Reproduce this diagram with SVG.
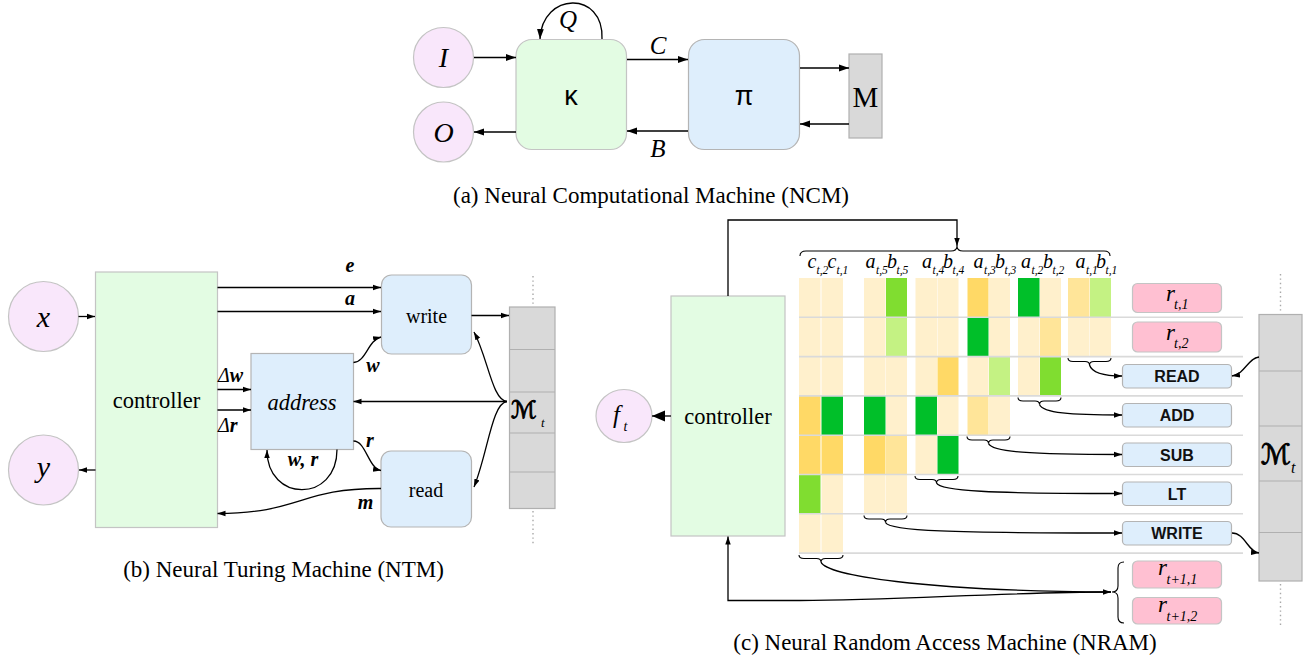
<svg xmlns="http://www.w3.org/2000/svg" width="1309" height="660" viewBox="0 0 1309 660">
<style>
.t{font-family:"Liberation Serif","Times New Roman",serif;fill:#000}
.it{font-style:italic}
.bi{font-style:italic;font-weight:bold}
.sans{font-family:"Liberation Sans",Arial,sans-serif;fill:#000}
.op{font-family:"Liberation Sans",Arial,sans-serif;font-weight:bold;font-size:16px;fill:#111}
.cal{font-family:"DejaVu Serif","DejaVu Sans",serif;font-style:italic;fill:#000;stroke:#000;stroke-width:0.9}
.circ{fill:#f9e7fb;stroke:#c4c4c4;stroke-width:1.2}
.gbox{fill:#e3fce3;stroke:#c4c4c4;stroke-width:1.2}
.bbox{fill:#deeefc;stroke:#b4b4b4;stroke-width:1.2}
.pbox{fill:#ffc0d2;stroke:#c4c4c4;stroke-width:1.2}
.mem{fill:#d9d9d9;stroke:#b0b0b0;stroke-width:1.2}
.c{fill:none;stroke:#000;stroke-width:1.3}
.br{fill:none;stroke:#000;stroke-width:1.1}
.dot{fill:none;stroke:#a8a8a8;stroke-width:1.4;stroke-dasharray:1.4 3}
.row{stroke:#dadada;stroke-width:1.6}
.P{fill:#fff0cc}.Y{fill:#ffd966}.LY{fill:#ffe599}.DG{fill:#00bf29}.MG{fill:#80dd30}.LG{fill:#c4f283}
</style>
<defs>
<marker id="ah" viewBox="0 0 10 10" refX="10" refY="5" markerWidth="10" markerHeight="10" markerUnits="userSpaceOnUse" orient="auto"><path d="M0,1.6 L10,5 L0,8.4 z" fill="#000"/></marker>
<marker id="as" viewBox="0 0 10 10" refX="10" refY="5" markerWidth="8" markerHeight="8" markerUnits="userSpaceOnUse" orient="auto"><path d="M0,1.6 L10,5 L0,8.4 z" fill="#000"/></marker>
<marker id="ab" viewBox="0 0 10 10" refX="10" refY="5" markerWidth="13" markerHeight="13" markerUnits="userSpaceOnUse" orient="auto"><path d="M0,0.8 L10,5 L0,9.2 z" fill="#000"/></marker>
</defs>

<!-- ============ (a) NCM ============ -->
<g id="a-I"><circle class="circ" cx="443.5" cy="57.5" r="30"/><text class="t it" x="443.5" y="67" font-size="28" text-anchor="middle">I</text></g>
<g id="a-O"><circle class="circ" cx="443.5" cy="132" r="30"/><text class="t it" x="443.5" y="141.5" font-size="28" text-anchor="middle">O</text></g>
<g id="a-kappa"><rect class="gbox" x="516" y="39.5" width="110.5" height="110" rx="16"/><text class="sans" x="571" y="105" font-size="27" text-anchor="middle">κ</text></g>
<g id="a-pi"><rect class="bbox" x="688.5" y="39.5" width="111" height="110" rx="16"/><text class="sans" x="744" y="105" font-size="27" text-anchor="middle">π</text></g>
<g id="a-M"><rect class="mem" x="849" y="54" width="33" height="84"/><text class="t" x="865.5" y="107" font-size="29" text-anchor="middle">M</text></g>
<g id="a-connectors">
<path class="c" d="M474,57.5 L516,57.5" marker-end="url(#ah)"/>
<path class="c" d="M516,132 L474,132" marker-end="url(#ah)"/>
<path class="c" d="M627,59.5 L688,59.5" marker-end="url(#ah)"/>
<path class="c" d="M688,131 L627,131" marker-end="url(#ah)"/>
<path class="c" d="M800,68 L849,68" marker-end="url(#ah)"/>
<path class="c" d="M849,124 L800,124" marker-end="url(#ah)"/>
<path class="c" d="M602,39 C604,-10 542,-8 540,39" marker-end="url(#ah)"/>
<text class="t it" x="568" y="28" font-size="25" text-anchor="middle">Q</text>
<text class="t it" x="658" y="54" font-size="25" text-anchor="middle">C</text>
<text class="t it" x="658" y="157" font-size="25" text-anchor="middle">B</text>
</g>
<text class="t" x="651" y="203" font-size="23" text-anchor="middle">(a) Neural Computational Machine (NCM)</text>

<!-- ============ (b) NTM ============ -->
<g id="b-x"><circle class="circ" cx="43.5" cy="316.5" r="35"/><text class="t it" x="43.5" y="327" font-size="30" text-anchor="middle">x</text></g>
<g id="b-y"><circle class="circ" cx="43.5" cy="470" r="35"/><text class="t it" x="43.5" y="477" font-size="30" text-anchor="middle">y</text></g>
<g id="b-controller"><rect class="gbox" x="95.5" y="272" width="122" height="255.5"/><text class="t" x="156.5" y="408" font-size="22.5" text-anchor="middle">controller</text></g>
<g id="b-write"><rect class="bbox" x="381.5" y="275" width="90" height="79" rx="10"/><text class="t" x="426.5" y="323" font-size="20" text-anchor="middle">write</text></g>
<g id="b-address"><rect class="bbox" x="251" y="353.5" width="102.5" height="96"/><text class="t it" x="302" y="410" font-size="22.5" text-anchor="middle">address</text></g>
<g id="b-read"><rect class="bbox" x="381" y="451" width="90.5" height="76" rx="10"/><text class="t" x="426" y="496.5" font-size="20" text-anchor="middle">read</text></g>
<g id="b-memory">
<rect class="mem" x="509.5" y="307" width="45.5" height="201.5"/>
<path class="mem" d="M509.5,349.5 H555 M509.5,392 H555 M509.5,433 H555 M509.5,472 H555" fill="none"/>
<path class="dot" d="M533,276 V305 M533,511 V545"/>
<text class="cal" x="511" y="418" font-size="24">ℳ</text>
<text class="t it" x="541" y="427" font-size="13">t</text>
</g>
<g id="b-connectors">
<path class="c" d="M78.5,316.5 L95,316.5" marker-end="url(#as)"/>
<path class="c" d="M95.5,470 L79,470" marker-end="url(#as)"/>
<path class="c" d="M217.5,287.5 L381,287.5" marker-end="url(#as)"/>
<path class="c" d="M217.5,311.5 L381,311.5" marker-end="url(#as)"/>
<path class="c" d="M217.5,389.5 L251,389.5" marker-end="url(#as)"/>
<path class="c" d="M217.5,410 L251,410" marker-end="url(#as)"/>
<path class="c" d="M471.5,315.5 L509,315.5" marker-end="url(#as)"/>
<path class="c" d="M507,401.5 L353.5,401.5" marker-end="url(#as)"/>
<path class="c" d="M507,401.5 C492,400 488,358 474,332" marker-end="url(#as)"/>
<path class="c" d="M507,401.5 C492,403 488,452 474,487" marker-end="url(#as)"/>
<path class="c" d="M353.5,362.5 C366,362 368,340 381,337" marker-end="url(#as)"/>
<path class="c" d="M353.5,441 C366,441 368,468 381,470.5" marker-end="url(#as)"/>
<path class="c" d="M337,449.5 C337,503 267,503 267,450" marker-end="url(#as)"/>
<path class="c" d="M381,488.5 C300,488 300,513.5 217.5,513.5" marker-end="url(#as)"/>
<text class="t bi" x="350" y="272" font-size="20" text-anchor="middle">e</text>
<text class="t bi" x="350" y="305" font-size="20" text-anchor="middle">a</text>
<text class="t" x="218" y="381.5" font-size="20"><tspan class="it">Δ</tspan><tspan class="bi">w</tspan></text>
<text class="t" x="218" y="432" font-size="20"><tspan class="it">Δ</tspan><tspan class="bi">r</tspan></text>
<text class="t bi" x="373" y="372" font-size="20" text-anchor="middle">w</text>
<text class="t bi" x="370" y="447" font-size="20" text-anchor="middle">r</text>
<text class="t bi" x="303" y="466" font-size="20" text-anchor="middle">w, r</text>
<text class="t bi" x="365.5" y="508.5" font-size="20" text-anchor="middle">m</text>
</g>
<text class="t" x="283.5" y="577" font-size="23" text-anchor="middle">(b) Neural Turing Machine (NTM)</text>

<!-- ============ (c) NRAM ============ -->
<g id="c-grid">
<!-- row 1 -->
<rect class="P" x="799" y="278" width="21.5" height="39.3"/><rect class="P" x="821.5" y="278" width="21.5" height="39.3"/>
<rect class="P" x="864" y="278" width="21.5" height="39.3"/><rect class="MG" x="886" y="278" width="21" height="39.3"/>
<rect class="P" x="915.5" y="278" width="21.5" height="39.3"/><rect class="P" x="937.5" y="278" width="21" height="39.3"/>
<rect class="Y" x="967.5" y="278" width="21" height="39.3"/><rect class="P" x="989" y="278" width="21" height="39.3"/>
<rect class="DG" x="1018" y="278" width="21.5" height="39.3"/><rect class="P" x="1040" y="278" width="21" height="39.3"/>
<rect class="LY" x="1068" y="278" width="21.5" height="39.3"/><rect class="LG" x="1090" y="278" width="21" height="39.3"/>
<!-- row 2 -->
<rect class="P" x="799" y="317.3" width="21.5" height="39.3"/><rect class="P" x="821.5" y="317.3" width="21.5" height="39.3"/>
<rect class="P" x="864" y="317.3" width="21.5" height="39.3"/><rect class="LG" x="886" y="317.3" width="21" height="39.3"/>
<rect class="P" x="915.5" y="317.3" width="21.5" height="39.3"/><rect class="P" x="937.5" y="317.3" width="21" height="39.3"/>
<rect class="DG" x="967.5" y="317.3" width="21" height="39.3"/><rect class="P" x="989" y="317.3" width="21" height="39.3"/>
<rect class="P" x="1018" y="317.3" width="21.5" height="39.3"/><rect class="LY" x="1040" y="317.3" width="21" height="39.3"/>
<rect class="P" x="1068" y="317.3" width="21.5" height="39.3"/><rect class="P" x="1090" y="317.3" width="21" height="39.3"/>
<!-- row 3 -->
<rect class="P" x="799" y="356.6" width="21.5" height="39.3"/><rect class="P" x="821.5" y="356.6" width="21.5" height="39.3"/>
<rect class="P" x="864" y="356.6" width="21.5" height="39.3"/><rect class="P" x="886" y="356.6" width="21" height="39.3"/>
<rect class="P" x="915.5" y="356.6" width="21.5" height="39.3"/><rect class="Y" x="937.5" y="356.6" width="21" height="39.3"/>
<rect class="P" x="967.5" y="356.6" width="21" height="39.3"/><rect class="LG" x="989" y="356.6" width="21" height="39.3"/>
<rect class="P" x="1018" y="356.6" width="21.5" height="39.3"/><rect class="MG" x="1040" y="356.6" width="21" height="39.3"/>
<!-- row 4 -->
<rect class="Y" x="799" y="395.9" width="21.5" height="39.3"/><rect class="DG" x="821.5" y="395.9" width="21.5" height="39.3"/>
<rect class="DG" x="864" y="395.9" width="21.5" height="39.3"/><rect class="P" x="886" y="395.9" width="21" height="39.3"/>
<rect class="DG" x="915.5" y="395.9" width="21.5" height="39.3"/><rect class="P" x="937.5" y="395.9" width="21" height="39.3"/>
<rect class="LY" x="967.5" y="395.9" width="21" height="39.3"/><rect class="P" x="989" y="395.9" width="21" height="39.3"/>
<!-- row 5 -->
<rect class="Y" x="799" y="435.2" width="21.5" height="39.3"/><rect class="Y" x="821.5" y="435.2" width="21.5" height="39.3"/>
<rect class="Y" x="864" y="435.2" width="21.5" height="39.3"/><rect class="LY" x="886" y="435.2" width="21" height="39.3"/>
<rect class="P" x="915.5" y="435.2" width="21.5" height="39.3"/><rect class="DG" x="937.5" y="435.2" width="21" height="39.3"/>
<!-- row 6 -->
<rect class="MG" x="799" y="474.5" width="21.5" height="39.3"/><rect class="P" x="821.5" y="474.5" width="21.5" height="39.3"/>
<rect class="P" x="864" y="474.5" width="21.5" height="39.3"/><rect class="P" x="886" y="474.5" width="21" height="39.3"/>
<!-- row 7 -->
<rect class="P" x="799" y="513.8" width="21.5" height="39.3"/><rect class="P" x="821.5" y="513.8" width="21.5" height="39.3"/>
<path class="row" d="M799,317.3 H1243 M799,356.6 H1243 M799,395.9 H1243 M799,435.2 H1243 M799,474.5 H1243 M799,513.8 H1243 M799,553.1 H1243"/>
<!-- column labels -->
<g class="t it">
<text x="807.5" y="268" font-size="20">c</text><text x="816.5" y="274" font-size="11.5">t,2</text>
<text x="827.5" y="268" font-size="20">c</text><text x="836.5" y="274" font-size="11.5">t,1</text>
<text x="865.5" y="268" font-size="20">a</text><text x="876" y="274" font-size="11.5">t,5</text>
<text x="887" y="268" font-size="20">b</text><text x="896.5" y="274" font-size="11.5">t,5</text>
<text x="922" y="268" font-size="20">a</text><text x="932.5" y="274" font-size="11.5">t,4</text>
<text x="943" y="268" font-size="20">b</text><text x="952.5" y="274" font-size="11.5">t,4</text>
<text x="973.5" y="268" font-size="20">a</text><text x="984" y="274" font-size="11.5">t,3</text>
<text x="995" y="268" font-size="20">b</text><text x="1004.5" y="274" font-size="11.5">t,3</text>
<text x="1021" y="268" font-size="20">a</text><text x="1031.5" y="274" font-size="11.5">t,2</text>
<text x="1043" y="268" font-size="20">b</text><text x="1052.5" y="274" font-size="11.5">t,2</text>
<text x="1075.5" y="268" font-size="20">a</text><text x="1086" y="274" font-size="11.5">t,1</text>
<text x="1096" y="268" font-size="20">b</text><text x="1105.5" y="274" font-size="11.5">t,1</text>
</g>
</g>

<g id="c-controller"><rect class="gbox" x="671" y="296" width="114" height="240"/><text class="t" x="728" y="424" font-size="22.5" text-anchor="middle">controller</text></g>
<g id="c-f"><ellipse class="circ" cx="624" cy="416" rx="28" ry="26.5"/><text class="t it" x="613" y="423" font-size="25">f</text><text class="t it" x="623.5" y="431" font-size="14">t</text></g>

<g id="c-r1"><rect class="pbox" x="1132.5" y="283.5" width="89" height="29" rx="5"/><text class="t it" x="1166" y="301" font-size="23">r</text><text class="t it" x="1174" y="308.5" font-size="14">t,1</text></g>
<g id="c-r2"><rect class="pbox" x="1132.5" y="322" width="89" height="30" rx="5"/><text class="t it" x="1166" y="340" font-size="23">r</text><text class="t it" x="1174" y="347.5" font-size="14">t,2</text></g>
<g id="c-rn1"><rect class="pbox" x="1132.5" y="561" width="89" height="27" rx="5"/><text class="t it" x="1158" y="575" font-size="23">r</text><text class="t it" x="1166.5" y="584" font-size="14">t+1,1</text></g>
<g id="c-rn2"><rect class="pbox" x="1132.5" y="597.5" width="89" height="26.5" rx="5"/><text class="t it" x="1158" y="611.5" font-size="23">r</text><text class="t it" x="1166.5" y="620.5" font-size="14">t+1,2</text></g>

<g id="c-READ"><rect class="bbox" x="1122.5" y="364.5" width="109" height="23.5" rx="4"/><text class="op" x="1177" y="382" text-anchor="middle">READ</text></g>
<g id="c-ADD"><rect class="bbox" x="1122.5" y="403.5" width="109" height="23.5" rx="4"/><text class="op" x="1177" y="421" text-anchor="middle">ADD</text></g>
<g id="c-SUB"><rect class="bbox" x="1122.5" y="443" width="109" height="23.5" rx="4"/><text class="op" x="1177" y="460.5" text-anchor="middle">SUB</text></g>
<g id="c-LT"><rect class="bbox" x="1122.5" y="482" width="109" height="23.5" rx="4"/><text class="op" x="1177" y="499.5" text-anchor="middle">LT</text></g>
<g id="c-WRITE"><rect class="bbox" x="1122.5" y="521.5" width="109" height="23.5" rx="4"/><text class="op" x="1177" y="539" text-anchor="middle">WRITE</text></g>

<g id="c-memory">
<rect class="mem" x="1259" y="314.5" width="43" height="266.5"/>
<path class="mem" d="M1259,371 H1302 M1259,426 H1302 M1259,481 H1302 M1259,532.5 H1302" fill="none"/>
<path class="dot" d="M1280.5,274 V312 M1280.5,584 V628"/>
<text class="cal" x="1261" y="464" font-size="28">ℳ</text>
<text class="t it" x="1291" y="473" font-size="16">t</text>
</g>

<g id="c-connectors">
<path class="br" d="M800,256 Q800,251 806,251 L951,251 Q957,251 957,246 Q957,251 963,251 L1104,251 Q1110,251 1110,256"/>
<path class="br" d="M1068,358 Q1068,361.5 1073,361.5 L1085,361.5 Q1089.5,361.5 1089.5,365 Q1089.5,361.5 1094,361.5 L1106,361.5 Q1111,361.5 1111,358"/>
<path class="br" d="M1018,397.5 Q1018,401 1023,401 L1035,401 Q1039.5,401 1039.5,404.5 Q1039.5,401 1044,401 L1056,401 Q1061,401 1061,397.5"/>
<path class="br" d="M967,436.5 Q967,440 972,440 L984,440 Q988.5,440 988.5,443.5 Q988.5,440 993,440 L1005,440 Q1010,440 1010,436.5"/>
<path class="br" d="M915,476 Q915,479.5 920,479.5 L932,479.5 Q936.5,479.5 936.5,483 Q936.5,479.5 941,479.5 L953,479.5 Q958,479.5 958,476"/>
<path class="br" d="M864,515.5 Q864,519 869,519 L881,519 Q885.5,519 885.5,522.5 Q885.5,519 890,519 L902,519 Q907,519 907,515.5"/>
<path class="br" d="M799,555 Q799,558.5 804,558.5 L816.5,558.5 Q821,558.5 821,562 Q821,558.5 825.5,558.5 L838,558.5 Q843,558.5 843,555"/>
<path class="br" d="M1124,562 Q1118,562 1118,568 L1118,586 Q1118,592 1112,592 Q1118,592 1118,598 L1118,617 Q1118,623 1124,623"/>
<path class="c" d="M1089.5,365 C1092,373 1103,376 1122,376" marker-end="url(#as)"/>
<path class="c" d="M1039.5,404.5 C1043,413 1070,415 1122,415" marker-end="url(#as)"/>
<path class="c" d="M988.5,443.5 C992,452 1030,454.5 1122,454.5" marker-end="url(#as)"/>
<path class="c" d="M936.5,483 C940,491 990,493.5 1122,493.5" marker-end="url(#as)"/>
<path class="c" d="M885.5,522.5 C889,531 950,533 1122,533" marker-end="url(#as)"/>
<path class="c" d="M821,562 C826,575 920,591 1111,592" marker-end="url(#as)"/>
<path class="c" d="M1111,592 C1000,592 900,600.5 800,600.5 L728,600.5 L728,536.5" marker-end="url(#as)"/>
<path class="c" d="M728,296 L728,220 L957,220 L957,246" marker-end="url(#as)"/>
<path class="c" d="M671,416 L652,416" marker-end="url(#ab)"/>
<path class="c" d="M1259,357 C1248,358 1245,374 1232,376" marker-end="url(#as)"/>
<path class="c" d="M1232,533 C1245,533 1248,552 1259,553" marker-end="url(#as)"/>
</g>
<text class="t" x="945" y="650" font-size="23" text-anchor="middle">(c) Neural Random Access Machine (NRAM)</text>
</svg>
